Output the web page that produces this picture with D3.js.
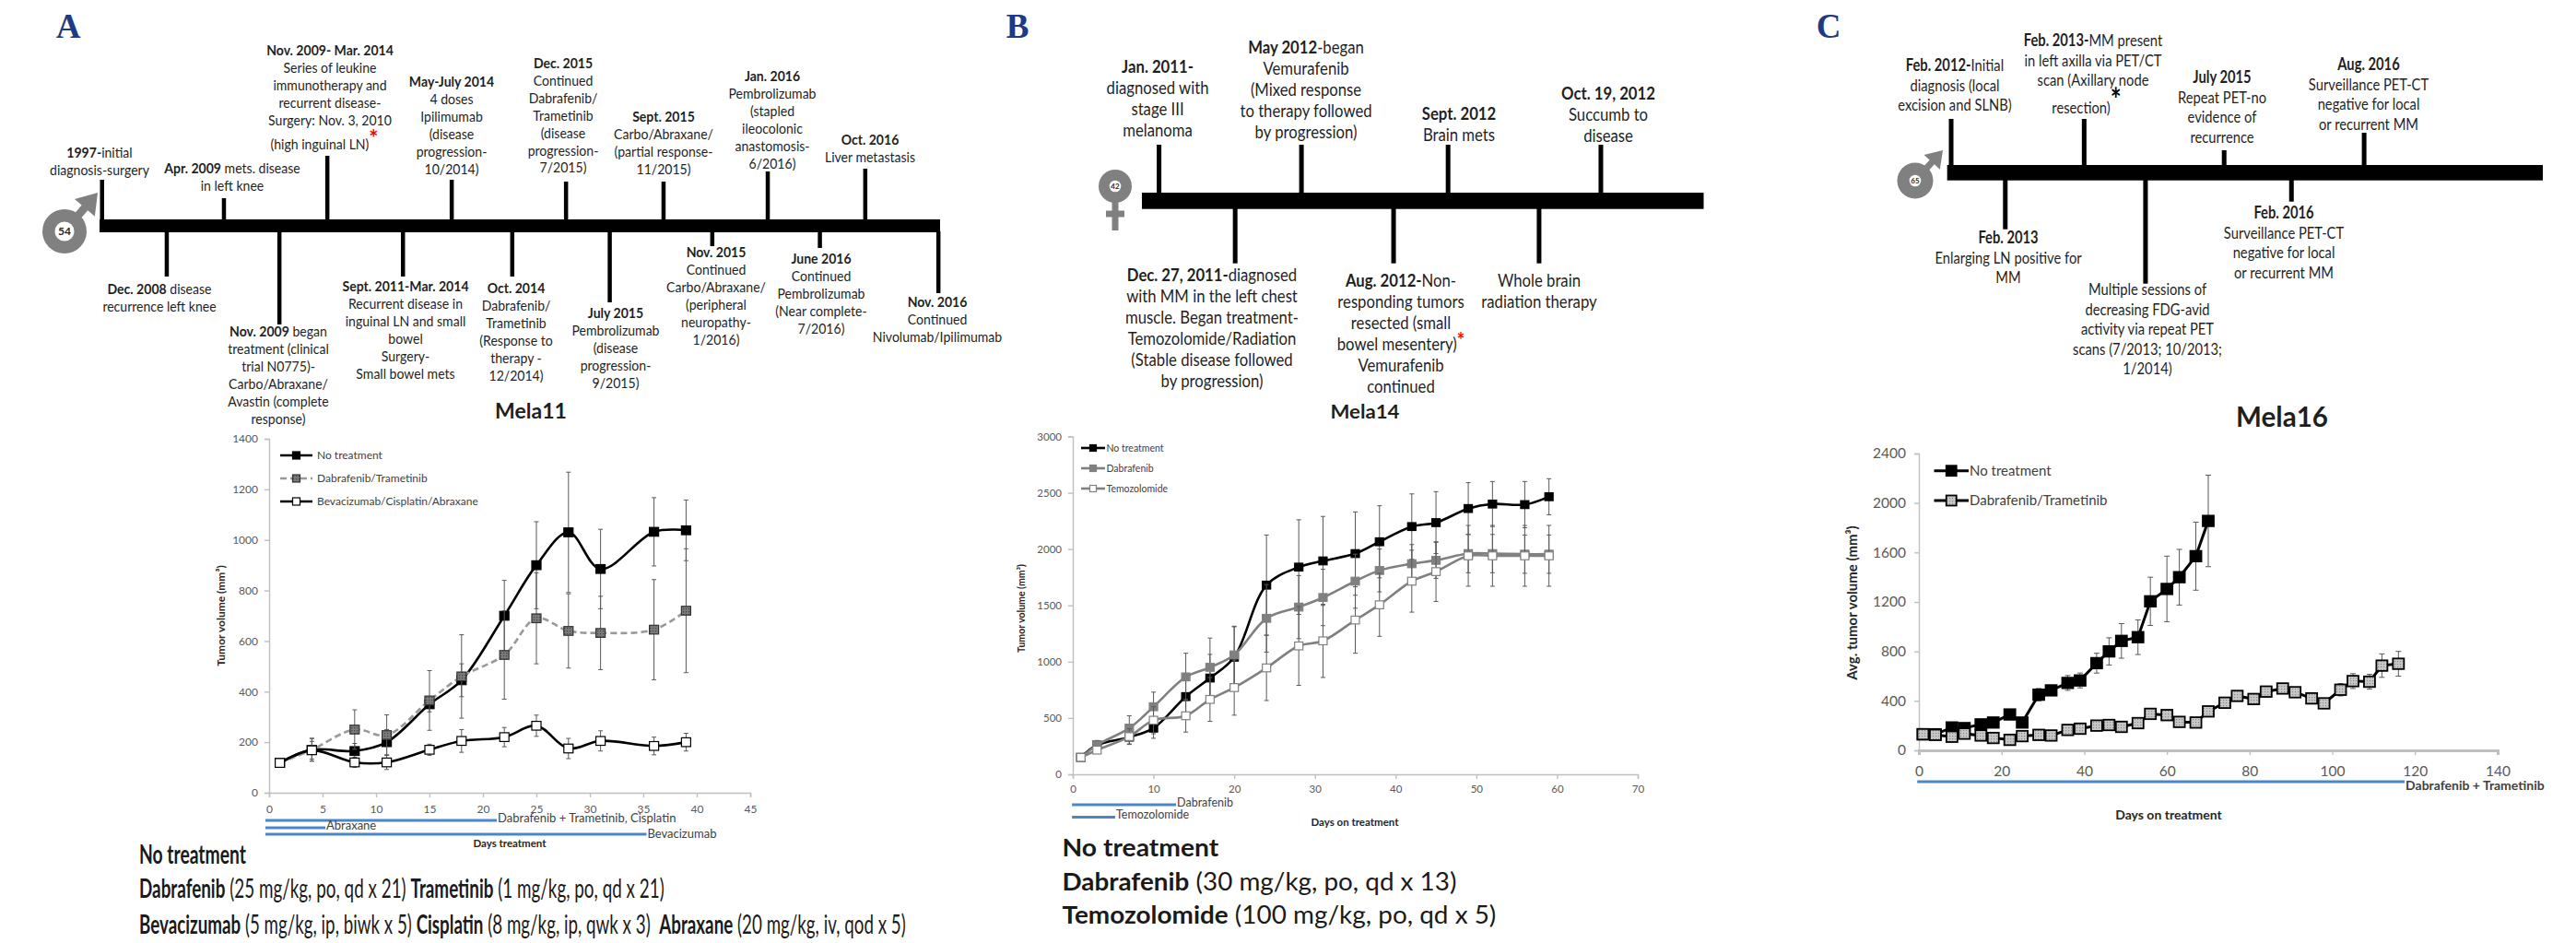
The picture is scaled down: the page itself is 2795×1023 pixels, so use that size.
<!DOCTYPE html>
<html>
<head>
<meta charset="utf-8">
<script src="https://cdn.jsdelivr.net/npm/d3@7"></script>
<style>
body { margin: 0; background: #fff; }
text { font-family: Lato, "Open Sans", sans-serif; }
</style>
</head>
<body>
<svg id="graph" width="2795" height="1023"></svg>
<script>
//----------data: panel A, Mela11-------------
var daysA = [1, 4, 8, 11, 15, 18, 22, 25, 28, 31, 36, 39];
var noTreatmentA = [118, 170, 165, 200, 350, 445, 700, 900, 1030, 885, 1032, 1038];
var noTreatmentErrA = [8, 45, 30, 50, 30, 65, 140, 172, 238, 157, 135, 120];
var dabTramA = [118, 170, 250, 228, 365, 460, 545, 690, 640, 632, 645, 720];
var dabTramErrA = [8, 45, 78, 80, 118, 165, 175, 180, 147, 145, 198, 245];
var bevCisAbrA = [118, 168, 120, 120, 170, 205, 220, 265, 175, 205, 185, 200];
var bevCisAbrErrA = [5, 35, 20, 28, 22, 45, 38, 42, 40, 40, 35, 35];
var xTicksA = [0, 5, 10, 15, 20, 25, 30, 35, 40, 45];
var yTicksA = [0, 200, 400, 600, 800, 1000, 1200, 1400];
var seriesNamesA = ["No treatment", "Dabrafenib/Trametinib", "Bevacizumab/Cisplatin/Abraxane"];
var treatNamesA = ["Dabrafenib + Trametinib, Cisplatin", "Abraxane", "Bevacizumab"];
var treatEndsA = [21.3, 5.26, 35.3];
var doseTextA = [
	"No treatment|",
	"Dabrafenib| (25 mg/kg, po, qd x 21) |Trametinib| (1 mg/kg, po, qd x 21)",
	"Bevacizumab| (5 mg/kg, ip, biwk x 5) |Cisplatin| (8 mg/kg, ip, qwk x 3)  |Abraxane| (20 mg/kg, iv, qod x 5)"
];
var stemUpA = [0.3, 14.8, 27.1, 41.9, 55.5, 67.1, 79.5, 91.1];
var stemUpLenA = [43, 23, 69, 43, 41, 41, 52, 55];
var stemDownA = [8.0, 21.4, 36.1, 49.1, 60.7, 72.9, 85.7, 99.8];
var stemDownLenA = [48, 100, 48, 48, 76, 15, 17, 66];
var eventsA = [
	["1997-|initial", "diagnosis-surgery"],
	["Apr. 2009| mets. disease", "in left knee"],
	["Nov. 2009- Mar. 2014|", "Series of leukine", "immunotherapy and", "recurrent disease-", "Surgery: Nov. 3, 2010"],
	["(high inguinal LN)*"],
	["May-July 2014|", "4 doses", "Ipilimumab", "(disease", "progression-", "10/2014)"],
	["Dec. 2015|", "Continued", "Dabrafenib/", "Trametinib", "(disease", "progression-", "7/2015)"],
	["Sept. 2015|", "Carbo/Abraxane/", "(partial response-", "11/2015)"],
	["Jan. 2016|", "Pembrolizumab", "(stapled", "ileocolonic", "anastomosis-", "6/2016)"],
	["Oct. 2016|", "Liver metastasis"],
	["Dec. 2008| disease", "recurrence left knee"],
	["Nov. 2009| began", "treatment (clinical", "trial N0775)-", "Carbo/Abraxane/", "Avastin (complete", "response)"],
	["Sept. 2011-Mar. 2014|", "Recurrent disease in", "inguinal LN and small", "bowel", "Surgery-", "Small bowel mets"],
	["Oct. 2014|", "Dabrafenib/", "Trametinib", "(Response to", "therapy -", "12/2014)"],
	["July 2015|", "Pembrolizumab", "(disease", "progression-", "9/2015)"],
	["Nov. 2015|", "Continued", "Carbo/Abraxane/", "(peripheral", "neuropathy-", "1/2016)"],
	["June 2016|", "Continued", "Pembrolizumab", "(Near complete-", "7/2016)"],
	["Nov. 2016|", "Continued", "Nivolumab/Ipilimumab"]
];

//----------data: panel B, Mela14-------------
var daysB = [1, 3, 7, 10, 14, 17, 20, 24, 28, 31, 35, 38, 42, 45, 49, 52, 56, 59];
var noTreatmentB = [150, 260, 330, 410, 690, 855, 1040, 1680, 1840, 1895, 1960, 2065, 2200, 2235, 2360, 2400, 2395, 2465];
var noTreatmentErrB = [10, 40, 60, 90, 200, 210, 270, 445, 420, 395, 370, 320, 290, 275, 230, 200, 205, 160];
var dabrafenibB = [150, 260, 410, 600, 865, 950, 1060, 1385, 1485, 1570, 1715, 1810, 1870, 1900, 1960, 1960, 1955, 1955];
var dabrafenibErrB = [10, 30, 110, 130, 210, 260, 255, 300, 280, 250, 240, 190, 170, 160, 170, 170, 170, 170];
var temozolomideB = [150, 215, 335, 480, 520, 665, 770, 945, 1140, 1185, 1370, 1505, 1715, 1800, 1940, 1940, 1940, 1940];
var temozolomideErrB = [10, 25, 70, 120, 145, 195, 245, 290, 350, 325, 295, 280, 275, 265, 270, 270, 270, 270];
var xTicksB = [0, 10, 20, 30, 40, 50, 60, 70];
var yTicksB = [0, 500, 1000, 1500, 2000, 2500, 3000];
var seriesNamesB = ["No treatment", "Dabrafenib", "Temozolomide"];
var treatNamesB = ["Dabrafenib", "Temozolomide"];
var treatEndsB = [12.8, 5.25];
var doseTextB = [
	"No treatment|",
	"Dabrafenib| (30 mg/kg, po, qd x 13)",
	"Temozolomide| (100 mg/kg, po, qd x 5)"
];
var stemUpB = [3.05, 28.4, 54.5, 81.7];
var stemUpLenB = [52, 52, 52, 52];
var stemDownB = [16.6, 44.8, 70.7];
var stemDownLenB = [59, 59, 59];
var eventsB = [
	["Jan. 2011-|", "diagnosed with", "stage III", "melanoma"],
	["May 2012|-began", "Vemurafenib", "(Mixed response", "to therapy followed", "by progression)"],
	["Sept. 2012|", "Brain mets"],
	["Oct. 19, 2012|", "Succumb to", "disease"],
	["Dec. 27, 2011-|diagnosed", "with MM in the left chest", "muscle. Began treatment-", "Temozolomide/Radiation", "(Stable disease followed", "by progression)"],
	["Aug. 2012-|Non-", "responding tumors", "resected (small", "bowel mesentery)*", "Vemurafenib", "continued"],
	["Whole brain", "radiation therapy"]
];

//----------data: panel C, Mela16-------------
var daysNoTreatmentC = [1, 4, 8, 11, 15, 18, 22, 25, 29, 32, 36, 39, 43, 46, 49, 53, 56, 60, 63, 67, 70];
var noTreatmentC = [130, 130, 185, 180, 210, 225, 290, 225, 450, 485, 545, 565, 705, 800, 885, 915, 1205, 1305, 1400, 1570, 1855];
var noTreatmentErrC = [15, 15, 15, 15, 15, 15, 15, 20, 50, 40, 60, 60, 80, 110, 140, 140, 195, 265, 225, 275, 370];
var daysDabTramC = [1, 4, 8, 11, 15, 18, 22, 25, 29, 32, 36, 39, 43, 46, 49, 53, 56, 60, 63, 67, 70, 74, 77, 81, 84, 88, 91, 95, 98, 102, 105, 109, 112, 116];
var dabTramC = [130, 125, 110, 135, 120, 100, 85, 115, 125, 120, 165, 175, 200, 205, 190, 220, 295, 285, 230, 225, 315, 385, 440, 415, 475, 500, 470, 420, 380, 490, 560, 555, 685, 700];
var dabTramErrC = [15, 15, 15, 15, 15, 15, 15, 15, 15, 15, 20, 20, 20, 20, 20, 25, 25, 25, 25, 25, 30, 30, 40, 30, 30, 30, 30, 30, 30, 50, 60, 60, 95, 100];
var xTicksC = [0, 20, 40, 60, 80, 100, 120, 140];
var yTicksC = [0, 400, 800, 1200, 1600, 2000, 2400];
var seriesNamesC = ["No treatment", "Dabrafenib/Trametinib"];
var treatNamesC = ["Dabrafenib + Trametinib"];
var treatEndsC = [117.5];
var stemUpC = [0.67, 23.0, 46.5, 70.0];
var stemUpLenC = [50, 50, 16, 35];
var stemDownC = [9.76, 33.3, 57.8];
var stemDownLenC = [53, 112, 23];
var eventsC = [
	["Feb. 2012-|Initial", "diagnosis (local", "excision and SLNB)"],
	["Feb. 2013-|MM present", "in left axilla via PET/CT", "scan (Axillary node"],
	["resection)*"],
	["July 2015|", "Repeat PET-no", "evidence of", "recurrence"],
	["Aug. 2016|", "Surveillance PET-CT", "negative for local", "or recurrent MM"],
	["Feb. 2013|", "Enlarging LN positive for", "MM"],
	["Multiple sessions of", "decreasing FDG-avid", "activity via repeat PET", "scans (7/2013; 10/2013;", "1/2014)"],
	["Feb. 2016|", "Surveillance PET-CT", "negative for local", "or recurrent MM"]
];

//----------layout, not data-------------
var eventPosA = [[108,166],[252,183],[358,55],[352,157],[490,89],[611,69],[720,127],[838,83],[944,152],
	[173,314],[302,360],[440,311],[560,313],[668,340],[777,274],[891,281],[1017,328]];
var eventPosB = [[1256,72],[1417,51],[1583,123],[1745,101],[1315,298],[1520,304],[1670,304]];
var eventPosC = [[2121,71],[2271,44],[2264,117],[2411,84],[2570,70],[2179,258],[2330,314],[2478,231]];

var svg = d3.select("#graph");
var defs = svg.append("defs");

var hatch = function (id, base, dark)
{
	var p = defs.append("pattern").attr("id", id)
		.attr("width", 3).attr("height", 3)
		.attr("patternUnits", "userSpaceOnUse");
	p.append("rect").attr("width", 3).attr("height", 3).attr("fill", base);
	p.append("rect").attr("width", 1.2).attr("height", 1.2).attr("fill", dark);
}
hatch("darkHatch", "#7a7a7a", "#444");
hatch("lightHatch", "#c8c8c8", "#8a8a8a");

//----------text helpers---------
// "bold|regular|bold" alternates, a line without | is all regular
var addRuns = function (text, line, starColor, starSize)
{
	var parts = line.indexOf("|") < 0 ? ["", line] : line.split("|");
	parts.forEach(function (part, i)
	{
		var star = part.slice(-1) == "*";
		var plain = star ? part.slice(0, -1) : part;
		text.append("tspan")
			.attr("font-weight", i % 2 == 0 ? 700 : 400)
			.text(plain);
		if (star)
		{
			text.append("tspan")
				.attr("font-weight", 700)
				.attr("font-size", starSize + "em")
				.attr("dy", -3)
				.attr("fill", starColor)
				.text("*");
		}
	});
}

var drawEvents = function (events, pos, style)
{
	events.forEach(function (lines, i)
	{
		lines.forEach(function (line, j)
		{
			var y = pos[i][1] + j * style.step + style.size * 0.35;
			var t = svg.append("text")
				.attr("transform", "translate(" + pos[i][0] + "," + y + ") scale(" + style.sx + ",1)")
				.attr("text-anchor", "middle")
				.attr("font-size", style.size)
				.attr("fill", "#1f1f1f")
				.style("white-space", "pre");
			addRuns(t, line, style.star, style.starSize);
		});
	});
}

var fitText = function (x, y, label, size, width, opts)
{
	opts = opts || {};
	return svg.append("text")
		.attr("x", x).attr("y", y + size * 0.35)
		.attr("text-anchor", opts.anchor || "start")
		.attr("font-size", size)
		.attr("font-weight", opts.weight || 400)
		.attr("fill", opts.fill || "#1f1f1f")
		.attr("textLength", width)
		.attr("lengthAdjust", "spacingAndGlyphs")
		.text(label);
}

//----------timeline---------
var drawTimeline = function (bar)
{
	var tScale = d3.scaleLinear().domain([0, 100]).range([bar.x0, bar.x1]);
	svg.append("rect")
		.attr("x", bar.x0).attr("y", bar.top)
		.attr("width", bar.x1 - bar.x0).attr("height", bar.bottom - bar.top)
		.attr("fill", "#000");
	var up = bar.up.map(function (p, i) { return {p: p, len: bar.upLen[i]}; });
	var down = bar.down.map(function (p, i) { return {p: p, len: bar.downLen[i]}; });
	svg.selectAll(null).data(up).enter().append("rect")
		.attr("x", function (d) { return tScale(d.p) - bar.stem / 2; })
		.attr("y", function (d) { return bar.top - d.len; })
		.attr("width", bar.stem)
		.attr("height", function (d) { return d.len + 1; })
		.attr("fill", "#000");
	svg.selectAll(null).data(down).enter().append("rect")
		.attr("x", function (d) { return tScale(d.p) - bar.stem / 2; })
		.attr("y", bar.bottom - 1)
		.attr("width", bar.stem)
		.attr("height", function (d) { return d.len + 1; })
		.attr("fill", "#000");
}

var drawMale = function (cx, cy, r, inner, tipX, tipY, age, fs)
{
	var dx = tipX - cx, dy = tipY - cy;
	var len = Math.sqrt(dx * dx + dy * dy);
	var ux = dx / len, uy = dy / len;
	var head = r * 0.6;
	svg.append("line")
		.attr("x1", cx).attr("y1", cy)
		.attr("x2", tipX - ux * head).attr("y2", tipY - uy * head)
		.attr("stroke", "#808080").attr("stroke-width", r * 0.36);
	svg.append("path")
		.attr("d", "M" + tipX + "," + tipY
			+ "L" + (tipX - ux * head * 1.5 - uy * head) + "," + (tipY - uy * head * 1.5 + ux * head)
			+ "L" + (tipX - ux * head * 1.5 + uy * head) + "," + (tipY - uy * head * 1.5 - ux * head) + "Z")
		.attr("fill", "#808080");
	ageRing(cx, cy, r, inner, age, fs);
}

var ageRing = function (cx, cy, r, inner, age, fs)
{
	svg.append("circle").attr("cx", cx).attr("cy", cy).attr("r", r).attr("fill", "#808080");
	svg.append("circle").attr("cx", cx).attr("cy", cy).attr("r", inner).attr("fill", "#fff");
	svg.append("text").attr("x", cx).attr("y", cy + fs * 0.35)
		.attr("text-anchor", "middle").attr("font-size", fs)
		.attr("font-weight", 700).attr("fill", "#262626").text(age);
}

//----------charts---------
var drawChart = function (c)
{
	var xScale = d3.scaleLinear().domain(c.xDomain).range([c.left, c.right]);
	var yScale = d3.scaleLinear().domain(c.yDomain).range([c.bottom, c.top]);

	var xAxis = svg.append("g")
		.attr("transform", "translate(0," + c.bottom + ")")
		.call(d3.axisBottom(xScale).tickValues(c.xTicks).tickFormat(d3.format("d")).tickSizeOuter(0).tickSize(c.tick).tickPadding(c.xPad));
	var yAxis = svg.append("g")
		.attr("transform", "translate(" + c.left + ",0)")
		.call(d3.axisLeft(yScale).tickValues(c.yTicks).tickFormat(d3.format("d")).tickSizeOuter(0).tickSize(c.tick).tickPadding(c.yPad));
	[xAxis, yAxis].forEach(function (a)
	{
		a.selectAll("path,line").attr("stroke", "#bfbfbf").attr("stroke-width", 1.4);
		a.selectAll("text").attr("font-size", c.tickSize).attr("fill", "#595959")
			.style("font-family", "Lato");
	});
	xAxis.select("path").attr("stroke-width", c.xAxisWidth || 1.4);

	var line = d3.line()
		.x(function (d) { return xScale(d.x); })
		.y(function (d) { return yScale(d.y); })
		.curve(c.curve);

	c.series.forEach(function (s)
	{
		var pts = s.xs.map(function (x, i) { return {x: x, y: s.ys[i], e: s.err[i]}; });
		var g = svg.append("g");
		g.selectAll(".bar").data(pts).enter().append("path")
			.attr("d", function (d)
			{
				var px = xScale(d.x), hi = yScale(d.y + d.e), lo = yScale(d.y - d.e), w = c.cap;
				return "M" + px + "," + hi + "V" + lo
					+ "M" + (px - w) + "," + hi + "H" + (px + w)
					+ "M" + (px - w) + "," + lo + "H" + (px + w);
			})
			.attr("fill", "none").attr("stroke", "#595959").attr("stroke-width", 1);
		g.append("path").datum(pts)
			.attr("d", line)
			.attr("fill", "none")
			.attr("stroke", s.stroke)
			.attr("stroke-width", c.lineWidth)
			.attr("stroke-dasharray", s.dash || null);
		g.selectAll("rect").data(pts).enter().append("rect")
			.attr("x", function (d) { return xScale(d.x) - c.mw / 2; })
			.attr("y", function (d) { return yScale(d.y) - c.mh / 2; })
			.attr("width", c.mw).attr("height", c.mh)
			.attr("fill", s.fill)
			.attr("stroke", s.edge)
			.attr("stroke-width", c.edge);
	});

	// legend
	c.series.forEach(function (s, i)
	{
		var y = c.legend.ys[i];
		svg.append("line")
			.attr("x1", c.legend.x0).attr("x2", c.legend.x1)
			.attr("y1", y).attr("y2", y)
			.attr("stroke", s.stroke).attr("stroke-width", c.lineWidth)
			.attr("stroke-dasharray", s.dash || null);
		svg.append("rect")
			.attr("x", (c.legend.x0 + c.legend.x1) / 2 - c.legend.m / 2)
			.attr("y", y - c.legend.m / 2)
			.attr("width", c.legend.m).attr("height", c.legend.m)
			.attr("fill", s.fill).attr("stroke", s.edge).attr("stroke-width", c.edge);
		svg.append("text")
			.attr("x", c.legend.tx).attr("y", y + c.legend.size * 0.35)
			.attr("font-size", c.legend.size).attr("fill", "#404040")
			.text(s.name);
	});

	// treatment schedule lines under the axis
	c.treat.names.forEach(function (name, i)
	{
		var y = c.treat.ys[i];
		svg.append("line")
			.attr("x1", xScale(c.treat.start)).attr("x2", xScale(c.treat.ends[i]))
			.attr("y1", y).attr("y2", y)
			.attr("stroke", "#4a86c8").attr("stroke-width", c.treat.width);
		svg.append("text")
			.attr("x", xScale(c.treat.ends[i]) + 1).attr("y", c.treat.textYs[i] + c.treat.size * 0.35)
			.attr("font-size", c.treat.size).attr("fill", "#404040")
			.attr("font-weight", c.treat.weight || 400)
			.text(name);
	});

	// titles
	svg.append("text")
		.attr("transform", "translate(" + c.yTitle.x + "," + c.yTitle.y + ") rotate(-90)")
		.attr("text-anchor", "middle")
		.attr("font-size", c.yTitle.size).attr("font-weight", 700).attr("fill", "#262626")
		.text(c.yTitle.label);
	svg.append("text")
		.attr("x", c.xTitle.x).attr("y", c.xTitle.y + c.xTitle.size * 0.35)
		.attr("text-anchor", "middle")
		.attr("font-size", c.xTitle.size).attr("font-weight", 700).attr("fill", "#262626")
		.text(c.xTitle.label);
}

// squeeze each line to the width it has in the picture
var drawDose = function (lines, x, ys, widths, size)
{
	lines.forEach(function (line, i)
	{
		var y = ys[i] + size * 0.35;
		var t = svg.append("text")
			.attr("font-size", size).attr("fill", "#1a1a1a")
			.style("white-space", "pre");
		addRuns(t, line, "#000", 1);
		var sx = widths[i] / t.node().getComputedTextLength();
		t.attr("transform", "translate(" + x + "," + y + ") scale(" + sx + ",1)");
	});
}

var panelLetter = function (x, label)
{
	svg.append("text").attr("x", x).attr("y", 41)
		.attr("text-anchor", "middle")
		.attr("font-size", 37).attr("font-weight", 700)
		.attr("fill", "#1f3a84")
		.style("font-family", "Liberation Serif")
		.text(label);
}

//----------panel A---------
panelLetter(74, "A");
drawTimeline({x0: 108, x1: 1020, top: 238, bottom: 252, stem: 4.5,
	up: stemUpA, upLen: stemUpLenA, down: stemDownA, downLen: stemDownLenA});
drawMale(70, 251, 24, 10.5, 106, 209, "54", 12);
drawEvents(eventsA, eventPosA, {size: 14.5, step: 18.9, sx: 0.97, star: "#ff0000", starSize: 1.7});
fitText(576, 446, "Mela11", 22, 78, {anchor: "middle", weight: 700});
drawChart({
	xDomain: [0, 45], yDomain: [0, 1400],
	left: 292, right: 814, bottom: 860, top: 476,
	xTicks: xTicksA, yTicks: yTicksA,
	tick: 5, xPad: 8, yPad: 7, tickSize: 12,
	curve: d3.curveCatmullRom.alpha(0.5),
	lineWidth: 2.6, edge: 1.2, mw: 10, mh: 9.5, cap: 2.5,
	series: [
		{name: seriesNamesA[0], xs: daysA, ys: noTreatmentA, err: noTreatmentErrA, stroke: "#000", fill: "#000", edge: "#000"},
		{name: seriesNamesA[1], xs: daysA, ys: dabTramA, err: dabTramErrA, stroke: "#999", dash: "7,4", fill: "url(#darkHatch)", edge: "#333"},
		{name: seriesNamesA[2], xs: daysA, ys: bevCisAbrA, err: bevCisAbrErrA, stroke: "#000", fill: "#fff", edge: "#000"}
	],
	legend: {x0: 304, x1: 339, ys: [494, 519, 544], m: 8, tx: 344, size: 12},
	treat: {names: treatNamesA, ends: treatEndsA, start: -0.35, ys: [890, 898, 905],
		textYs: [887, 895.5, 904], size: 13, width: 3},
	yTitle: {label: "Tumor volume (mm³)", x: 244, y: 668, size: 12},
	xTitle: {label: "Days treatment", x: 553, y: 914.6, size: 11.5}
});
drawDose(doseTextA, 151, [927, 964, 1003], [116, 570, 832], 28);

//----------panel B---------
panelLetter(1104, "B");
drawTimeline({x0: 1239, x1: 1848.5, top: 209, bottom: 226.7, stem: 5,
	up: stemUpB, upLen: stemUpLenB, down: stemDownB, downLen: stemDownLenB});
ageRing(1210, 202, 18, 6.3, "42", 8);
svg.append("rect").attr("x", 1206.5).attr("y", 218).attr("width", 7).attr("height", 32).attr("fill", "#808080");
svg.append("rect").attr("x", 1200).attr("y", 228.5).attr("width", 20).attr("height", 7).attr("fill", "#808080");
drawEvents(eventsB, eventPosB, {size: 19, step: 23, sx: 0.88, star: "#ff0000", starSize: 1.2});
fitText(1481, 447, "Mela14", 21, 75, {anchor: "middle", weight: 700});
drawChart({
	xDomain: [0, 70], yDomain: [0, 3000],
	left: 1164, right: 1777, bottom: 840, top: 473.5,
	xTicks: xTicksB, yTicks: yTicksB,
	tick: 5, xPad: 7, yPad: 7, tickSize: 11.5,
	curve: d3.curveCatmullRom.alpha(0.5),
	lineWidth: 2.6, edge: 1.2, mw: 9, mh: 8.5, cap: 2.5,
	series: [
		{name: seriesNamesB[0], xs: daysB, ys: noTreatmentB, err: noTreatmentErrB, stroke: "#000", fill: "#000", edge: "#000"},
		{name: seriesNamesB[1], xs: daysB, ys: dabrafenibB, err: dabrafenibErrB, stroke: "#808080", fill: "#808080", edge: "#808080"},
		{name: seriesNamesB[2], xs: daysB, ys: temozolomideB, err: temozolomideErrB, stroke: "#808080", fill: "#fff", edge: "#808080"}
	],
	legend: {x0: 1173, x1: 1199, ys: [486, 508, 530], m: 7, tx: 1200.5, size: 10.5},
	treat: {names: treatNamesB, ends: treatEndsB, start: -0.1, ys: [873, 886.5],
		textYs: [870.5, 883.5], size: 12.5, width: 3},
	yTitle: {label: "Tumor volume (mm³)", x: 1112, y: 660, size: 10.5},
	xTitle: {label: "Days on treatment", x: 1470, y: 891.7, size: 11.5}
});
drawDose(doseTextB, 1152.5, [920, 957, 993], [170, 428, 471], 27);

//----------panel C---------
panelLetter(1984, "C");
drawTimeline({x0: 2112.7, x1: 2759, top: 179, bottom: 195.7, stem: 5,
	up: stemUpC, upLen: stemUpLenC, down: stemDownC, downLen: stemDownLenC});
drawMale(2078, 196, 19.5, 6.3, 2108, 163, "65", 8);
drawEvents(eventsC, eventPosC, {size: 18, step: 21.5, sx: 0.82, star: "#000", starSize: 1.9});
fitText(2476, 452, "Mela16", 30, 100, {anchor: "middle", weight: 700});
drawChart({
	xDomain: [0, 140], yDomain: [0, 2400],
	left: 2082, right: 2710, bottom: 814, top: 492,
	xTicks: xTicksC, yTicks: yTicksC,
	tick: 5, xPad: 12, yPad: 9, tickSize: 15.5, xAxisWidth: 3,
	curve: d3.curveLinear,
	lineWidth: 3, edge: 1.8, mw: 12, mh: 11.5, cap: 3,
	series: [
		{name: seriesNamesC[0], xs: daysNoTreatmentC, ys: noTreatmentC, err: noTreatmentErrC, stroke: "#000", fill: "#000", edge: "#000"},
		{name: seriesNamesC[1], xs: daysDabTramC, ys: dabTramC, err: dabTramErrC, stroke: "#000", fill: "url(#lightHatch)", edge: "#000"}
	],
	legend: {x0: 2098.5, x1: 2136, ys: [510.7, 543], m: 11, tx: 2137, size: 15},
	treat: {names: treatNamesC, ends: treatEndsC, start: -0.4, ys: [848], textYs: [851.7],
		size: 14, width: 3, weight: 700},
	yTitle: {label: "Avg. tumor volume (mm³)", x: 2015, y: 654, size: 15},
	xTitle: {label: "Days on treatment", x: 2353, y: 884, size: 14}
});
</script>
</body>
</html>
